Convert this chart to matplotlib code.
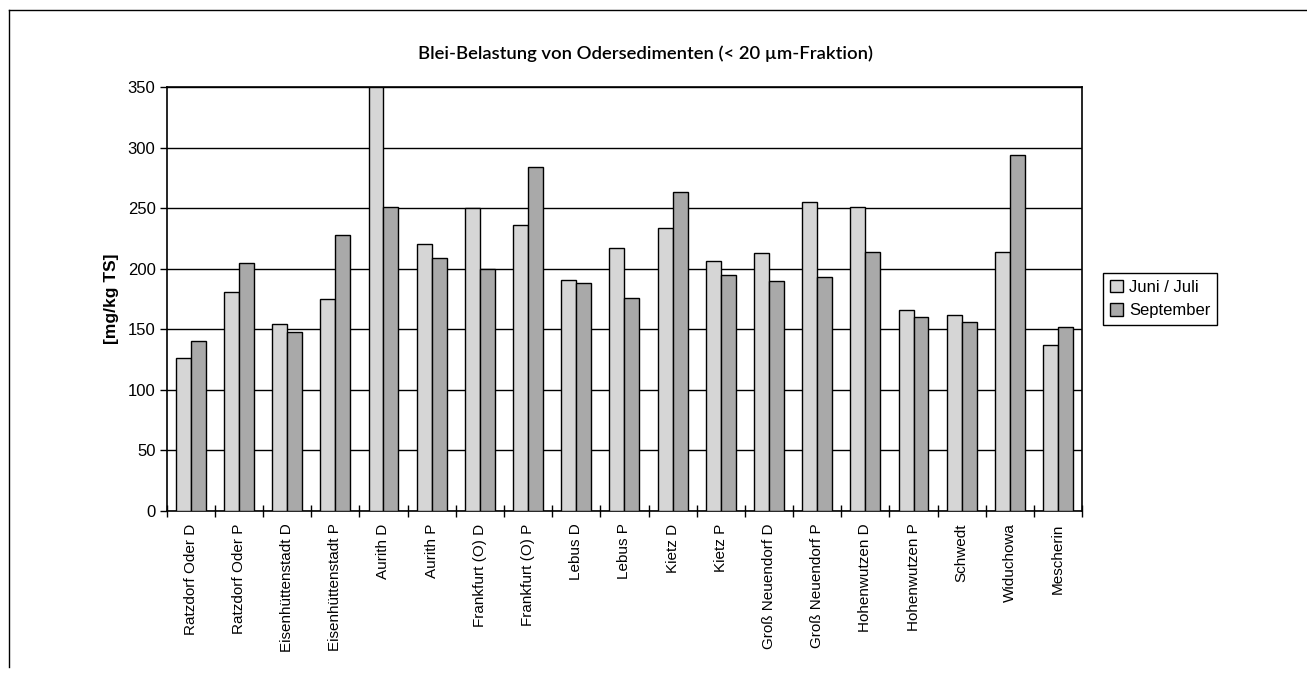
import numpy as np
import matplotlib.pyplot as plt
from matplotlib.lines import Line2D

orte = ["Ratzdorf Oder D", "Ratzdorf Oder P", "Eisenhüttenstadt D", "Eisenhüttenstadt P",
        "Aurith D", "Aurith P", "Frankfurt (O) D", "Frankfurt (O) P", "Lebus D", "Lebus P",
        "Kietz D", "Kietz P", "Groß Neuendorf D", "Groß Neuendorf P", "Hohenwutzen D",
        "Hohenwutzen P", "Schwedt", "Widuchowa", "Mescherin"]
juni_juli = [126, 181, 154, 175, 350, 220, 250, 236, 191, 217,
             234, 206, 213, 255, 251, 166, 162, 214, 137]
september = [140, 205, 148, 228, 251, 209, 200, 284, 188, 176,
             263, 195, 190, 193, 214, 160, 156, 294, 152]
yticks = [0, 50, 100, 150, 200, 250, 300, 350]

fig = plt.figure(figsize=(13.07, 6.76), dpi=100)
ax = fig.add_axes([0.1275, 0.2441, 0.7005, 0.6272])

x = np.arange(len(orte))
b = 0.31
ax.bar(x - b / 2, juni_juli, b, color="#d6d6d6", edgecolor="black", linewidth=1.0,
       label="Juni / Juli", zorder=3)
ax.bar(x + b / 2, september, b, color="#a9a9a9", edgecolor="black", linewidth=1.0,
       label="September", zorder=3)

ax.set_xlim(-0.5, len(orte) - 0.5)
ax.set_ylim(0, 350)
ax.set_yticks(yticks)
ax.yaxis.grid(True, color="black", linewidth=1.0, zorder=0)
ax.set_axisbelow(True)

ax.set_xticks(x)
ax.set_xticklabels(orte, rotation=90, family="Liberation Sans", fontsize=11)
ax.tick_params(axis="x", which="major", length=0, pad=9)
ax.set_xticks(np.arange(len(orte) + 1) - 0.5, minor=True)
ax.tick_params(axis="x", which="minor", direction="inout", length=8, width=1)
ax.tick_params(axis="y", direction="out", length=5, width=1, labelsize=12, pad=3)
for t in ax.get_yticklabels():
    t.set_family("Liberation Sans")
for s in ax.spines.values():
    s.set_linewidth(1.2)

ax.set_ylabel("[mg/kg TS]", family="Liberation Sans", fontweight="bold", fontsize=12.5,
              labelpad=6)

fig.text(0.4935, 0.92, "Blei-Belastung von Odersedimenten (< 20 µm-Fraktion)",
         ha="center", va="center", family="Lato", fontweight="semibold", fontsize=13.3)

leg = ax.legend(loc="center left", bbox_to_anchor=(1.023, 0.50), fancybox=False,
                edgecolor="black", framealpha=1, prop={"family": "Liberation Sans", "size": 12},
                handlelength=0.8, handleheight=0.8, handletextpad=0.35, borderpad=0.4,
                labelspacing=0.5, borderaxespad=0)
leg.get_frame().set_linewidth(1.0)

fig.add_artist(Line2D([9 / 1307, 1.0], [1 - 10 / 676, 1 - 10 / 676], color="black", linewidth=1))
fig.add_artist(Line2D([9 / 1307, 9 / 1307], [1 - 10 / 676, 1 - 667 / 676], color="black", linewidth=1))

fig.savefig("out.png", dpi=100)
